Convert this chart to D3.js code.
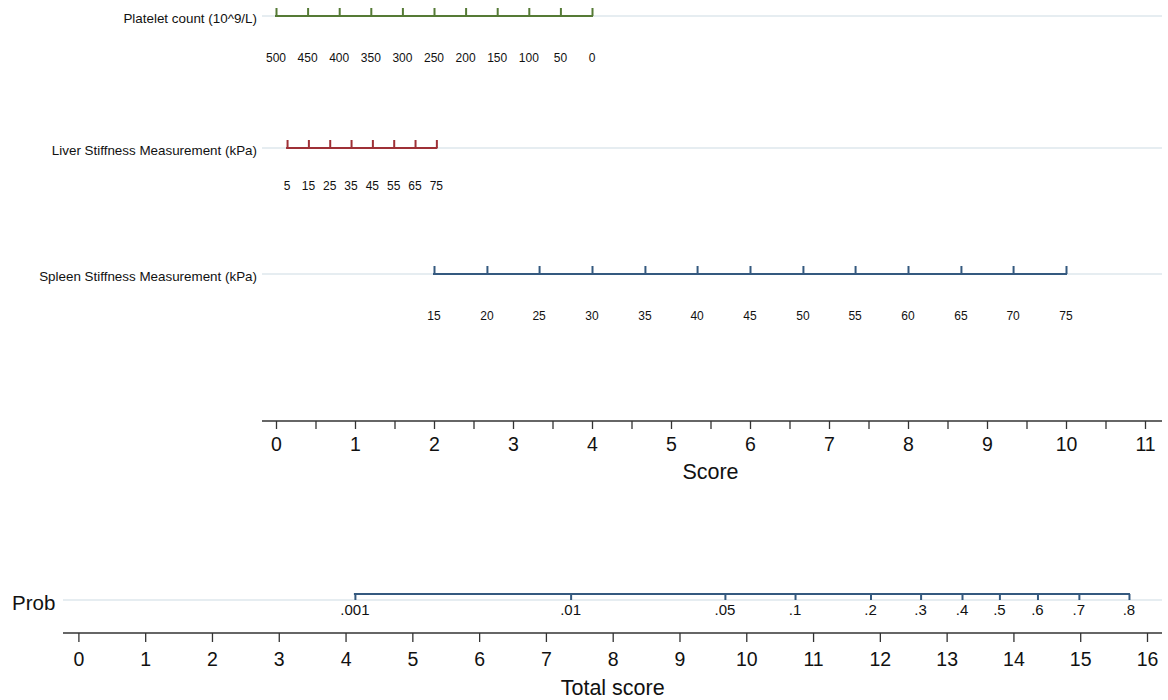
<!DOCTYPE html>
<html><head><meta charset="utf-8">
<script src="https://cdn.jsdelivr.net/npm/d3@7"></script>
<style>
body{margin:0;background:#fff;}
svg{display:block;font-family:"Liberation Sans",Arial,Helvetica,sans-serif;}
</style></head>
<body>
<svg id="c" width="1168" height="700"></svg>
<script>
// ---- data ----
const plateletLabels = [500,450,400,350,300,250,200,150,100,50,0];
const plateletScores = [0,0.4,0.8,1.2,1.6,2.0,2.4,2.8,3.2,3.6,4.0];
const liverLabels = [5,15,25,35,45,55,65,75];
const liverScores = [0.14,0.41,0.68,0.95,1.22,1.49,1.76,2.03];
const spleenLabels = [15,20,25,30,35,40,45,50,55,60,65,70,75];
const spleenScores = [2,2.67,3.33,4,4.67,5.33,6,6.67,7.33,8,8.67,9.33,10];
const scoreTicks = d3.range(0,11.01,0.5);
const totalTicks = d3.range(0,17,1);
const probLabels = [".001",".01",".05",".1",".2",".3",".4",".5",".6",".7",".8"];
const probTotals = [4.14,7.37,9.68,10.73,11.86,12.61,13.23,13.79,14.36,14.98,15.73];

const variables = [
  {name:"Platelet count (10^9/L)", labels:plateletLabels, scores:plateletScores, color:"#557a35", y:16, ly:57.5},
  {name:"Liver Stiffness Measurement (kPa)", labels:liverLabels, scores:liverScores, color:"#9e3036", y:148, ly:186},
  {name:"Spleen Stiffness Measurement (kPa)", labels:spleenLabels, scores:spleenScores, color:"#34597f", y:274, ly:316}
];

const svg = d3.select("#c");
const scoreX = d3.scaleLinear().domain([0,11]).range([276,1145]);
const totalX = d3.scaleLinear().domain([0,16]).range([78.4,1147]);

// variable rows
variables.forEach(v=>{
  const g = svg.append("g");
  g.append("line").attr("x1",262).attr("x2",1162).attr("y1",v.y).attr("y2",v.y)
    .attr("stroke","#e6edf1").attr("stroke-width",2);
  g.append("text").attr("x",257).attr("y",v.y+2).attr("dy","0.35em")
    .attr("text-anchor","end").attr("font-size",13.4).attr("fill","#111").text(v.name);
  const ax = d3.axisTop(scoreX).tickValues(v.scores).tickSize(8).tickSizeOuter(0).tickFormat("");
  const ag = g.append("g").attr("transform",`translate(0,${v.y})`).call(ax);
  ag.select(".domain").remove();
  ag.selectAll(".tick line").attr("stroke",v.color).attr("stroke-width",2);
  const [mn,mx] = d3.extent(v.scores);
  g.append("line").attr("x1",scoreX(mn)-1).attr("x2",scoreX(mx)+1).attr("y1",v.y).attr("y2",v.y)
    .attr("stroke",v.color).attr("stroke-width",2);
  g.selectAll("text.tl").data(v.labels).enter().append("text").attr("class","tl")
    .attr("x",(d,i)=>scoreX(v.scores[i])).attr("y",v.ly).attr("dy","0.35em")
    .attr("text-anchor","middle").attr("font-size",12).attr("fill","#111").text(d=>d);
});

// Score axis
{
  const y = 421;
  svg.append("line").attr("x1",262).attr("x2",1162).attr("y1",y).attr("y2",y)
    .attr("stroke","#333").attr("stroke-width",1.5);
  const ax = d3.axisBottom(scoreX).tickValues(scoreTicks).tickSize(8).tickSizeOuter(0)
    .tickFormat(d=>Number.isInteger(d)?d:"");
  const ag = svg.append("g").attr("transform",`translate(0,${y})`).call(ax);
  ag.select(".domain").remove();
  ag.selectAll(".tick line").attr("stroke","#333").attr("stroke-width",1.3);
  ag.selectAll(".tick text").attr("font-size",19.5).attr("fill","#111").attr("y",16.5)
    .attr("font-family","Liberation Sans, Arial, sans-serif");
  svg.append("text").attr("x",scoreX(5.5)).attr("y",471).attr("dy","0.35em")
    .attr("text-anchor","middle").attr("font-size",21.5).attr("fill","#111").text("Score");
}

// Prob row
{
  const y = 600;
  svg.append("line").attr("x1",63).attr("x2",1162).attr("y1",y).attr("y2",y)
    .attr("stroke","#e6edf1").attr("stroke-width",2);
  svg.append("text").attr("x",12).attr("y",y+3).attr("dy","0.35em")
    .attr("font-size",20.5).attr("fill","#111").text("Prob");
  const yl = 594;
  const ax = d3.axisBottom(totalX).tickValues(probTotals).tickSize(6).tickSizeOuter(0).tickFormat("");
  const ag = svg.append("g").attr("transform",`translate(0,${yl})`).call(ax);
  ag.select(".domain").remove();
  ag.selectAll(".tick line").attr("stroke","#34597f").attr("stroke-width",2);
  svg.append("line").attr("x1",totalX(probTotals[0])-1).attr("x2",totalX(probTotals[probTotals.length-1])+1)
    .attr("y1",yl).attr("y2",yl).attr("stroke","#34597f").attr("stroke-width",2);
  svg.selectAll("text.pl").data(probLabels).enter().append("text").attr("class","pl")
    .attr("x",(d,i)=>totalX(probTotals[i])).attr("y",610).attr("dy","0.35em")
    .attr("text-anchor","middle").attr("font-size",15).attr("fill","#111").text(d=>d);
}

// Total score axis
{
  const y = 633;
  svg.append("line").attr("x1",63).attr("x2",1162).attr("y1",y).attr("y2",y)
    .attr("stroke","#333").attr("stroke-width",1.5);
  const ax = d3.axisBottom(totalX).tickValues(totalTicks).tickSize(9).tickSizeOuter(0).tickFormat(d=>d);
  const ag = svg.append("g").attr("transform",`translate(0,${y})`).call(ax);
  ag.select(".domain").remove();
  ag.selectAll(".tick line").attr("stroke","#333").attr("stroke-width",1.3);
  ag.selectAll(".tick text").attr("font-size",19.5).attr("fill","#111").attr("y",19)
    .attr("font-family","Liberation Sans, Arial, sans-serif");
  svg.append("text").attr("x",totalX(8)).attr("y",687).attr("dy","0.35em")
    .attr("text-anchor","middle").attr("font-size",21.5).attr("fill","#111").text("Total score");
}
</script>
</body></html>
